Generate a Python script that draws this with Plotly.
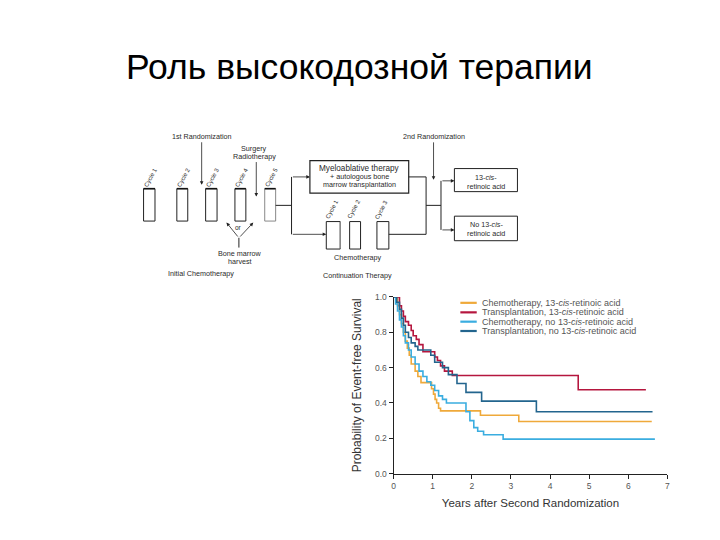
import plotly.graph_objects as go

W, H = 720, 540
OFF = 8  # page body margin of the browser

# ---------------- data ----------------
series_names = [
    "Chemotherapy, 13-<i>cis</i>-retinoic acid",
    "Transplantation, 13-<i>cis</i>-retinoic acid",
    "Chemotherapy, no 13-<i>cis</i>-retinoic acid",
    "Transplantation, no 13-<i>cis</i>-retinoic acid",
]
series_colors = ["#EFA93A", "#B5163E", "#3AADE0", "#23658E"]

chemo_cis_t = [0, 0.1, 0.15, 0.2, 0.25, 0.3, 0.35, 0.4, 0.45, 0.55, 0.62, 0.7, 0.97, 1.02, 1.06, 1.1, 1.15, 1.2, 2.22, 3.2, 6.6]
chemo_cis_s = [1.0, 0.95, 0.9, 0.85, 0.8, 0.75, 0.71, 0.67, 0.62, 0.58, 0.55, 0.515, 0.48, 0.45, 0.42, 0.4, 0.37, 0.355, 0.33, 0.295, 0.295]

trans_cis_t = [0, 0.15, 0.2, 0.25, 0.3, 0.38, 0.45, 0.5, 0.58, 0.65, 0.75, 1.05, 1.12, 1.2, 1.3, 1.5, 4.72, 6.45]
trans_cis_s = [1.0, 0.95, 0.92, 0.89, 0.86, 0.84, 0.81, 0.78, 0.76, 0.73, 0.69, 0.66, 0.64, 0.61, 0.58, 0.555, 0.475, 0.475]

chemo_no_t = [0, 0.05, 0.1, 0.15, 0.2, 0.25, 0.3, 0.38, 0.45, 0.55, 0.65, 0.75, 0.85, 0.95, 1.05, 1.15, 1.25, 1.35, 1.85, 1.95, 2.05, 2.15, 2.3, 2.8, 6.68]
chemo_no_s = [1.0, 0.96, 0.92, 0.87, 0.83, 0.78, 0.74, 0.70, 0.66, 0.62, 0.58, 0.55, 0.52, 0.50, 0.47, 0.44, 0.42, 0.40, 0.35, 0.30, 0.26, 0.24, 0.22, 0.195, 0.195]

trans_no_t = [0, 0.08, 0.15, 0.2, 0.25, 0.3, 0.38, 0.45, 0.55, 0.62, 0.95, 1.05, 1.25, 1.4, 1.62, 1.85, 2.25, 3.65, 6.62]
trans_no_s = [1.0, 0.97, 0.93, 0.88, 0.84, 0.80, 0.77, 0.74, 0.72, 0.70, 0.67, 0.63, 0.60, 0.56, 0.51, 0.46, 0.41, 0.35, 0.35]

series_t = [chemo_cis_t, trans_cis_t, chemo_no_t, trans_no_t]
series_s = [chemo_cis_s, trans_cis_s, chemo_no_s, trans_no_s]

x_ticks = [0, 1, 2, 3, 4, 5, 6, 7]
y_ticks = [0.0, 0.2, 0.4, 0.6, 0.8, 1.0]

title_text = "Роль высокодозной терапии"
x_title = "Years after Second Randomization"
y_title = "Probability of Event-free Survival"

initial_cycles = ["Cycle 1", "Cycle 2", "Cycle 3", "Cycle 4", "Cycle 5"]
continuation_cycles = ["Cycle 1", "Cycle 2", "Cycle 3"]

# ---------------- helpers ----------------
def PX(x):
    return (x - OFF) / W

def PY(y):
    return 1 - (y - OFF) / H

FONT = "Liberation Sans, Arial, sans-serif"
DCOL = "#2a2a2a"
TS = 7.2  # small diagram text size

shapes = []
annotations = []

def rect(x0, y0, x1, y1, color="#222", width=1.0, fill="white"):
    shapes.append(dict(type="rect", xref="paper", yref="paper",
                       x0=PX(x0), x1=PX(x1), y0=PY(y1), y1=PY(y0),
                       line=dict(color=color, width=width), fillcolor=fill, layer="above"))

def line(x0, y0, x1, y1, color="#222", width=1.0):
    shapes.append(dict(type="line", xref="paper", yref="paper",
                       x0=PX(x0), x1=PX(x1), y0=PY(y0), y1=PY(y1),
                       line=dict(color=color, width=width), layer="above"))

def arrow(x_from, y_from, x_to, y_to, color="#222"):
    annotations.append(dict(xref="paper", yref="paper", x=PX(x_to), y=PY(y_to),
                            axref="pixel", ayref="pixel",
                            ax=x_from - x_to, ay=y_from - y_to,
                            text="", showarrow=True, arrowhead=2, arrowsize=0.9,
                            arrowwidth=0.8, arrowcolor=color, standoff=0))

def text(x, y, s, size=TS, color=DCOL, angle=0, xanchor="center", family=FONT):
    annotations.append(dict(xref="paper", yref="paper", x=PX(x), y=PY(y),
                            text=s, showarrow=False, textangle=angle,
                            xanchor=xanchor, yanchor="middle",
                            font=dict(size=size, color=color, family=family)))

# ---------------- flow diagram ----------------
text(360, 63.5, title_text, size=35.5, color="#000000")

# 1st randomization
text(201, 134, "1st Randomization")
arrow(201, 139, 201, 183)

# surgery / radiotherapy
text(254, 146, "Surgery")
text(254, 154.5, "Radiotherapy")
arrow(256, 159, 256, 195)

# initial cycle boxes
init_boxes = [(142.5, 154), (176, 187), (205, 216.5), (234.5, 245.5), (264.5, 275.5)]
for i, (x0, x1) in enumerate(init_boxes):
    col = "#222" if i < 4 else "#888"
    rect(x0, 187, x1, 220, color=col, width=1.0)
    line(x0, 187, x1, 187, color="#111", width=1.6)
    text((x0 + x1) / 2 + 1.5, 175, initial_cycles[i], size=6, angle=-62)

# "or" + bone marrow harvest
arrow(238.5, 237, 226, 221.5)
arrow(238.5, 237, 253, 221.5)
line(238.5, 237, 238.5, 247)
text(238.5, 227, "or", size=6.5)
text(240, 253, "Bone marrow")
text(240, 261, "harvest")
text(200, 273, "Initial Chemotherapy")

# split after cycle 5
line(275.5, 204, 291.5, 204)
line(291.5, 175, 291.5, 233.5)
arrow(291.5, 175, 310, 175)
arrow(291.5, 233.5, 326.5, 233.5)

# myeloablative box
rect(310, 158.5, 409.5, 191.5, color="#222", width=1.2)
text(359.5, 166.5, "Myeloablative therapy", size=8.2)
text(359.5, 175, "+ autologous bone", size=TS)
text(359.5, 183, "marrow transplantation", size=TS)

# continuation chemo boxes
cont_boxes = [(326.5, 340.5), (350, 361), (377.5, 389.5)]
for i, (x0, x1) in enumerate(cont_boxes):
    rect(x0, 220.5, x1, 248.5, color="#222", width=1.0)
    text((x0 + x1) / 2 - 1, 208, continuation_cycles[i], size=6, angle=-62)
line(340.5, 221, 340.5, 248, color="#999", width=1.0)
text(358, 257, "Chemotherapy")
text(358, 275, "Continuation Therapy")

# merge into 2nd randomization
line(409.5, 175, 427, 175)
line(389.5, 233.5, 427, 233.5)
line(427, 175, 427, 233.5)
line(427, 204, 442, 204)
line(442, 179, 442, 229)
arrow(442, 179, 455.5, 179)
arrow(442, 229, 455.5, 229)
text(435, 134, "2nd Randomization")
arrow(434.5, 139, 434.5, 178)

# retinoic boxes
rect(455.5, 166.5, 519, 190, color="#222", width=1.0)
rect(455.5, 215, 519, 240, color="#222", width=1.0)
text(487.5, 175.5, "13-<i>cis</i>-")
text(487.5, 184.5, "retinoic acid")
text(487.5, 223.5, "No 13-<i>cis</i>-")
text(487.5, 232.5, "retinoic acid")

# legend (drawn)
leg_rows = [303.3, 313.0, 322.5, 332.0]
for name, col, yy in zip(series_names, series_colors, leg_rows):
    line(461.5, yy, 478, yy, color=col, width=2.2)
    text(481.5, yy, name, size=9, color="#555555", xanchor="left")

# ---------------- KM chart ----------------
fig = go.Figure()
for name, col, tt, ss in zip(series_names, series_colors, series_t, series_s):
    fig.add_trace(go.Scatter(x=tt, y=ss, mode="lines", name=name,
                             line=dict(color=col, width=1.6, shape="hv"),
                             showlegend=False, cliponaxis=False))

fig.update_layout(
    width=W, height=H,
    margin=dict(l=0, r=0, t=0, b=0),
    paper_bgcolor="white", plot_bgcolor="white",
    font=dict(family=FONT, color="#444"),
    showlegend=False,
    shapes=shapes, annotations=annotations,
    xaxis=dict(domain=[(394.3 - OFF) / W, (670 - OFF) / W], range=[0, 7],
               tickvals=x_ticks, ticktext=[str(v) for v in x_ticks],
               showgrid=False, zeroline=False, showline=True,
               linecolor="#222", linewidth=1.2,
               ticks="outside", ticklen=4, tickcolor="#222", tickwidth=1,
               tickfont=dict(size=8.5, color="#555"),
               title=dict(text=x_title, font=dict(size=11.5, color="#333"), standoff=9)),
    yaxis=dict(domain=[1 - (477.3 - OFF) / H, 1 - (297.3 - OFF) / H], range=[0, 1],
               tickvals=y_ticks, ticktext=["%.1f" % v for v in y_ticks],
               showgrid=False, zeroline=False, showline=True,
               linecolor="#222", linewidth=1.2,
               ticks="outside", ticklen=4, tickcolor="#222", tickwidth=1,
               tickfont=dict(size=8.5, color="#555"),
               title=dict(text=y_title, font=dict(size=12, color="#333"), standoff=10)),
)

fig.write_html("out.html")
